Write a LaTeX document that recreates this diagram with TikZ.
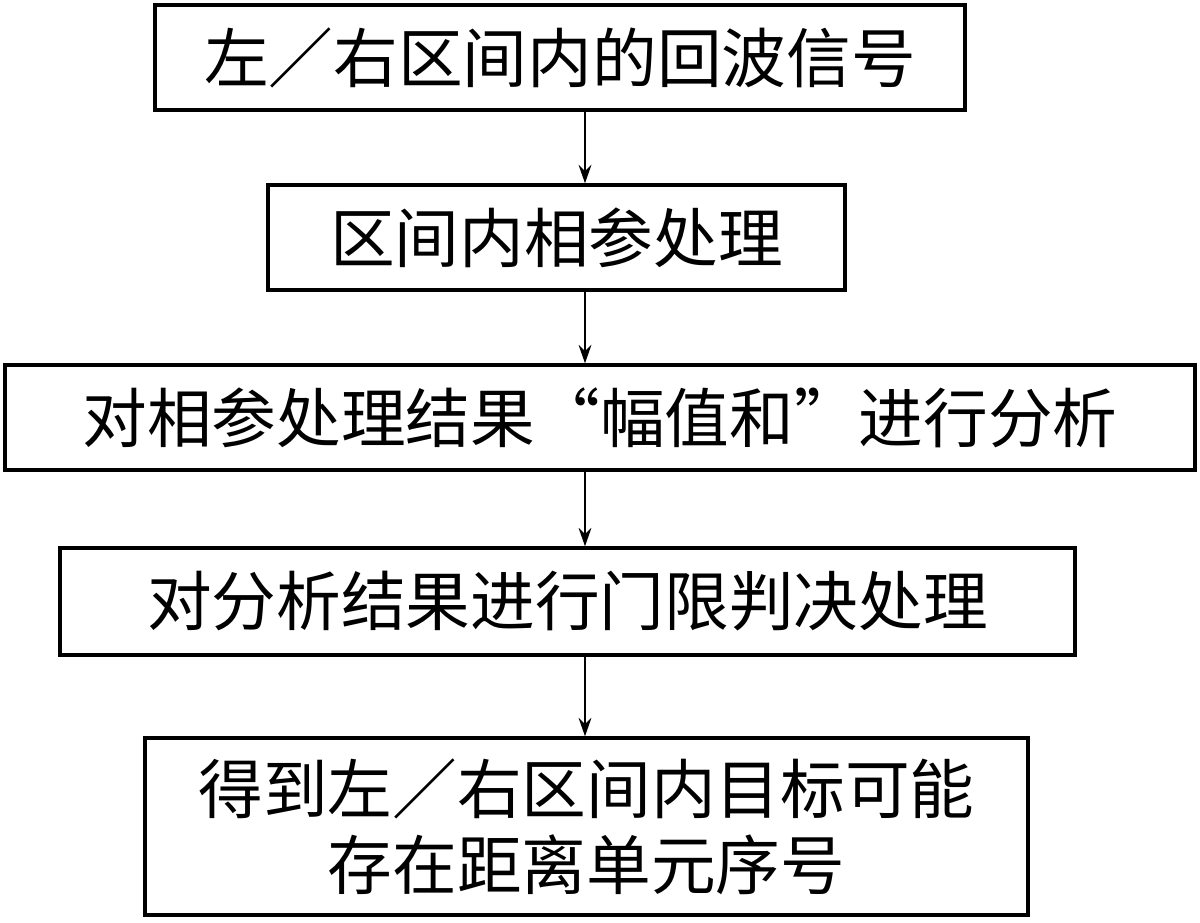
\documentclass[tikz,border=0pt]{standalone}
\usepackage{fontspec}
\newfontfamily\cjk{Noto Sans CJK SC}
\usetikzlibrary{arrows.meta,positioning}
\begin{document}
\begin{tikzpicture}[->,>={Stealth[length=13pt,width=9pt]}, x=0.025cm, y=-0.025cm, line width=2pt,
    every node/.style={font=\cjk\fontsize{46}{54}\selectfont},
    stepbox/.style={draw, rectangle, line width=2.4pt, inner sep=0pt, align=center}
    ]
\useasboundingbox (0,0) rectangle (1200,922);
% boxes placed at pixel coordinates of the reference
\node[stepbox, minimum width=810*0.025cm, minimum height=105*0.025cm] (echo) at (560,57.5) {左／右区间内的回波信号};
\node[stepbox, minimum width=577*0.025cm, minimum height=105*0.025cm] (coh) at (556.5,237.5) {区间内相参处理};
\node[stepbox, minimum width=1190*0.025cm, minimum height=105*0.025cm] (ana) at (600,417.5) {对相参处理结果“幅值和”进行分析};
\node[stepbox, minimum width=1015*0.025cm, minimum height=107*0.025cm] (thr) at (567.5,601.5) {对分析结果进行门限判决处理};
\node[stepbox, minimum width=883*0.025cm, minimum height=177*0.025cm] (res) at (586.5,826.5) {得到左／右区间内目标可能\\存在距离单元序号};
\coordinate (axis) at (585,0);
\draw (echo.south -| axis) -- (coh.north -| axis);
\draw (coh.south -| axis) -- (ana.north -| axis);
\draw (ana.south -| axis) -- (thr.north -| axis);
\draw (thr.south -| axis) -- (res.north -| axis);
\end{tikzpicture}
\end{document}
